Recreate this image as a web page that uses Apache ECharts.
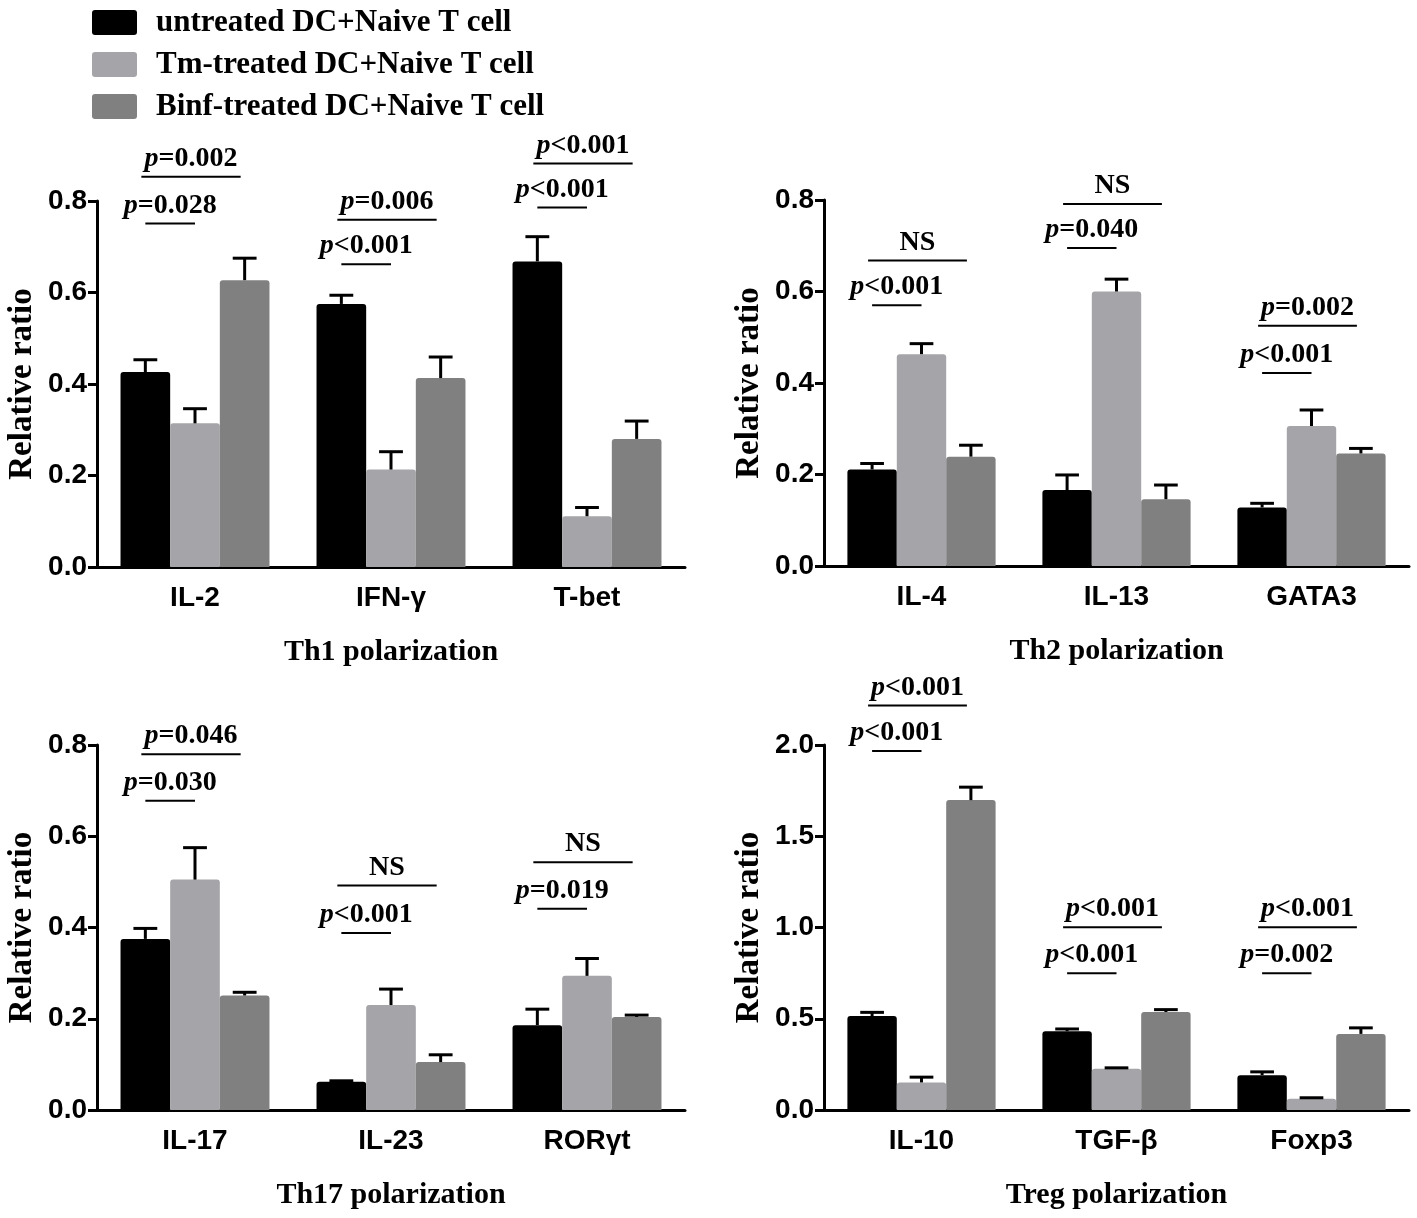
<!DOCTYPE html>
<html>
<head>
<meta charset="utf-8">
<script src="https://cdn.jsdelivr.net/npm/echarts@6/dist/echarts.min.js"></script>
<style>
html,body{margin:0;padding:0;background:#fff;}
#chart{width:1417px;height:1218px;}
</style>
</head>
<body>
<div id="chart"></div>
<script>
// ---------- data ----------
const seriesNames = ['untreated DC+Naive T cell', 'Tm-treated DC+Naive T cell', 'Binf-treated DC+Naive T cell'];
const seriesColors = ['#000000', '#a5a5a9', '#808080'];

const th1Categories = ['IL-2', 'IFN-γ', 'T-bet'];
const th1Untreated = [0.426, 0.575, 0.668];
const th1Tm = [0.314, 0.213, 0.111];
const th1Binf = [0.627, 0.413, 0.280];
const th1UntreatedSem = [0.027, 0.019, 0.054];
const th1TmSem = [0.032, 0.039, 0.019];
const th1BinfSem = [0.048, 0.046, 0.039];
const th1Sig = [[0, 0, 1, 0.751, 'p=0.028'], [0, 0, 2, 0.853, 'p=0.002'],
                [1, 0, 1, 0.662, 'p<0.001'], [1, 0, 2, 0.759, 'p=0.006'],
                [2, 0, 1, 0.786, 'p<0.001'], [2, 0, 2, 0.882, 'p<0.001']];

const th2Categories = ['IL-4', 'IL-13', 'GATA3'];
const th2Untreated = [0.211, 0.166, 0.128];
const th2Tm = [0.463, 0.600, 0.306];
const th2Binf = [0.239, 0.146, 0.246];
const th2UntreatedSem = [0.013, 0.033, 0.009];
const th2TmSem = [0.023, 0.027, 0.035];
const th2BinfSem = [0.025, 0.031, 0.011];
const th2Sig = [[0, 0, 1, 0.570, 'p<0.001'], [0, 0, 2, 0.668, 'NS'],
                [1, 0, 1, 0.695, 'p=0.040'], [1, 0, 2, 0.791, 'NS'],
                [2, 0, 1, 0.422, 'p<0.001'], [2, 0, 2, 0.525, 'p=0.002']];

const th17Categories = ['IL-17', 'IL-23', 'RORγt'];
const th17Untreated = [0.375, 0.062, 0.186];
const th17Tm = [0.505, 0.230, 0.294];
const th17Binf = [0.251, 0.105, 0.204];
const th17UntreatedSem = [0.023, 0.002, 0.035];
const th17TmSem = [0.070, 0.035, 0.038];
const th17BinfSem = [0.007, 0.016, 0.004];
const th17Sig = [[0, 0, 1, 0.678, 'p=0.030'], [0, 0, 2, 0.780, 'p=0.046'],
                 [1, 0, 1, 0.388, 'p<0.001'], [1, 0, 2, 0.492, 'NS'],
                 [2, 0, 1, 0.441, 'p=0.019'], [2, 0, 2, 0.543, 'NS']];

const tregCategories = ['IL-10', 'TGF-β', 'Foxp3'];
const tregUntreated = [0.515, 0.432, 0.191];
const tregTm = [0.151, 0.226, 0.062];
const tregBinf = [1.698, 0.537, 0.417];
const tregUntreatedSem = [0.020, 0.012, 0.018];
const tregTmSem = [0.029, 0.005, 0.005];
const tregBinfSem = [0.071, 0.013, 0.033];
const tregSig = [[0, 0, 1, 1.967, 'p<0.001'], [0, 0, 2, 2.217, 'p<0.001'],
                 [1, 0, 1, 0.750, 'p<0.001'], [1, 0, 2, 1.002, 'p<0.001'],
                 [2, 0, 1, 0.750, 'p=0.002'], [2, 0, 2, 1.002, 'p<0.001']];

const panelTitles = ['Th1 polarization', 'Th2 polarization', 'Th17 polarization', 'Treg polarization'];
const yMax = [0.8, 0.8, 0.8, 2.0];
const yInterval = [0.2, 0.2, 0.2, 0.5];

// ---------- build ----------
const panels = [
  {cats: th1Categories, vals: [th1Untreated, th1Tm, th1Binf], sems: [th1UntreatedSem, th1TmSem, th1BinfSem], sig: th1Sig},
  {cats: th2Categories, vals: [th2Untreated, th2Tm, th2Binf], sems: [th2UntreatedSem, th2TmSem, th2BinfSem], sig: th2Sig},
  {cats: th17Categories, vals: [th17Untreated, th17Tm, th17Binf], sems: [th17UntreatedSem, th17TmSem, th17BinfSem], sig: th17Sig},
  {cats: tregCategories, vals: [tregUntreated, tregTm, tregBinf], sems: [tregUntreatedSem, tregTmSem, tregBinfSem], sig: tregSig}
];

const GAP = 0.24;
const sansBold = "'Liberation Sans', Arial, sans-serif";
const serif = "'Liberation Serif', 'Times New Roman', serif";

const grids = [
  {left: 97, top: 201, width: 588, height: 366},
  {left: 824, top: 200, width: 585, height: 366},
  {left: 97, top: 745, width: 588, height: 365},
  {left: 824, top: 745, width: 585, height: 365}
];

const xAxes = [], yAxes = [], series = [];

function barCenter(api, cat, s) {
  const band = api.size([1, 0])[0];
  const bw = band * (1 - GAP) / 3;
  return {x: api.coord([cat, 0])[0] + (s - 1) * bw, bw: bw};
}

panels.forEach(function (p, i) {
  xAxes.push({
    type: 'category', gridIndex: i, data: p.cats,
    axisLine: {lineStyle: {color: '#000', width: 3}},
    axisTick: {alignWithLabel: true, length: 9, lineStyle: {color: '#000', width: 3}},
    axisLabel: {color: '#000', fontFamily: sansBold, fontWeight: 'bold', fontSize: 28, margin: 17},
    name: panelTitles[i], nameLocation: 'middle', nameGap: 70,
    nameTextStyle: {color: '#000', fontFamily: serif, fontWeight: 'bold', fontSize: 30}
  });
  yAxes.push({
    type: 'value', gridIndex: i, min: 0, max: yMax[i], interval: yInterval[i],
    axisLine: {show: true, lineStyle: {color: '#000', width: 3}},
    axisTick: {show: true, length: 9, lineStyle: {color: '#000', width: 3}},
    splitLine: {show: false},
    axisLabel: {color: '#000', fontFamily: sansBold, fontWeight: 'bold', fontSize: 28, margin: 10,
      formatter: function (v) { return v.toFixed(1); }},
    name: 'Relative ratio', nameLocation: 'middle', nameGap: 58,
    nameTextStyle: {color: '#000', fontFamily: serif, fontWeight: 'bold', fontSize: 33}
  });
  for (let s = 0; s < 3; s++) {
    series.push({
      type: 'bar', name: seriesNames[s], xAxisIndex: i, yAxisIndex: i,
      data: p.vals[s], barGap: '0%', barCategoryGap: (GAP * 100) + '%',
      itemStyle: {color: seriesColors[s], borderRadius: [3, 3, 0, 0]},
      z: 2
    });
  }
  const errData = [];
  for (let s = 0; s < 3; s++) {
    for (let c = 0; c < p.cats.length; c++) errData.push([c, s, p.vals[s][c], p.sems[s][c]]);
  }
  series.push({
    type: 'custom', xAxisIndex: i, yAxisIndex: i, z: 3, clip: false,
    encode: {x: 0, y: 2}, data: errData,
    renderItem: function (params, api) {
      const cat = api.value(0), s = api.value(1), m = api.value(2), e = api.value(3);
      const bc = barCenter(api, cat, s);
      const yb = api.coord([cat, m])[1];
      const yt = api.coord([cat, m + e])[1];
      const hw = bc.bw * 0.24;
      const st = {stroke: '#000', lineWidth: 3};
      return {type: 'group', children: [
        {type: 'line', shape: {x1: bc.x, y1: yb, x2: bc.x, y2: yt}, style: st},
        {type: 'line', shape: {x1: bc.x - hw, y1: yt, x2: bc.x + hw, y2: yt}, style: st}
      ]};
    }
  });
  series.push({
    type: 'custom', xAxisIndex: i, yAxisIndex: i, z: 4, clip: false,
    encode: {x: 0, y: 3}, data: p.sig,
    renderItem: function (params, api) {
      const row = p.sig[params.dataIndex];
      const cat = row[0], a = row[1], b = row[2], yv = row[3], label = row[4];
      const ca = barCenter(api, cat, a), cb = barCenter(api, cat, b);
      const shift = (b - a) > 1 ? -4 : 0;
      const y = api.coord([cat, yv])[1];
      const txt = label.charAt(0) === 'p' ? '{i|p}' + label.slice(1) : label;
      return {type: 'group', children: [
        {type: 'line', shape: {x1: ca.x + shift, y1: y, x2: cb.x + shift, y2: y}, style: {stroke: '#000', lineWidth: 2}},
        {type: 'text', x: (ca.x + cb.x) / 2 + shift, y: y - 18, style: {
          text: txt, align: 'center', verticalAlign: 'middle',
          font: 'bold 28px ' + serif, fill: '#000',
          rich: {i: {fontStyle: 'italic', fontWeight: 'bold', fontSize: 28, fontFamily: serif, fill: '#000'}}
        }}
      ]};
    }
  });
});

const chart = echarts.init(document.getElementById('chart'));
chart.setOption({
  backgroundColor: '#fff',
  animation: false,
  legend: {
    data: seriesNames, orient: 'vertical', left: 87, top: 2,
    itemWidth: 45, itemHeight: 25, itemGap: 11,
    icon: 'path://M3,0 H42 Q45,0 45,3 V22 Q45,25 42,25 H3 Q0,25 0,22 V3 Q0,0 3,0 Z',
    textStyle: {color: '#000', fontFamily: serif, fontWeight: 'bold', fontSize: 31, lineHeight: 25, padding: [0, 0, 0, 14]}
  },
  grid: grids,
  xAxis: xAxes,
  yAxis: yAxes,
  series: series
});
</script>
</body>
</html>
